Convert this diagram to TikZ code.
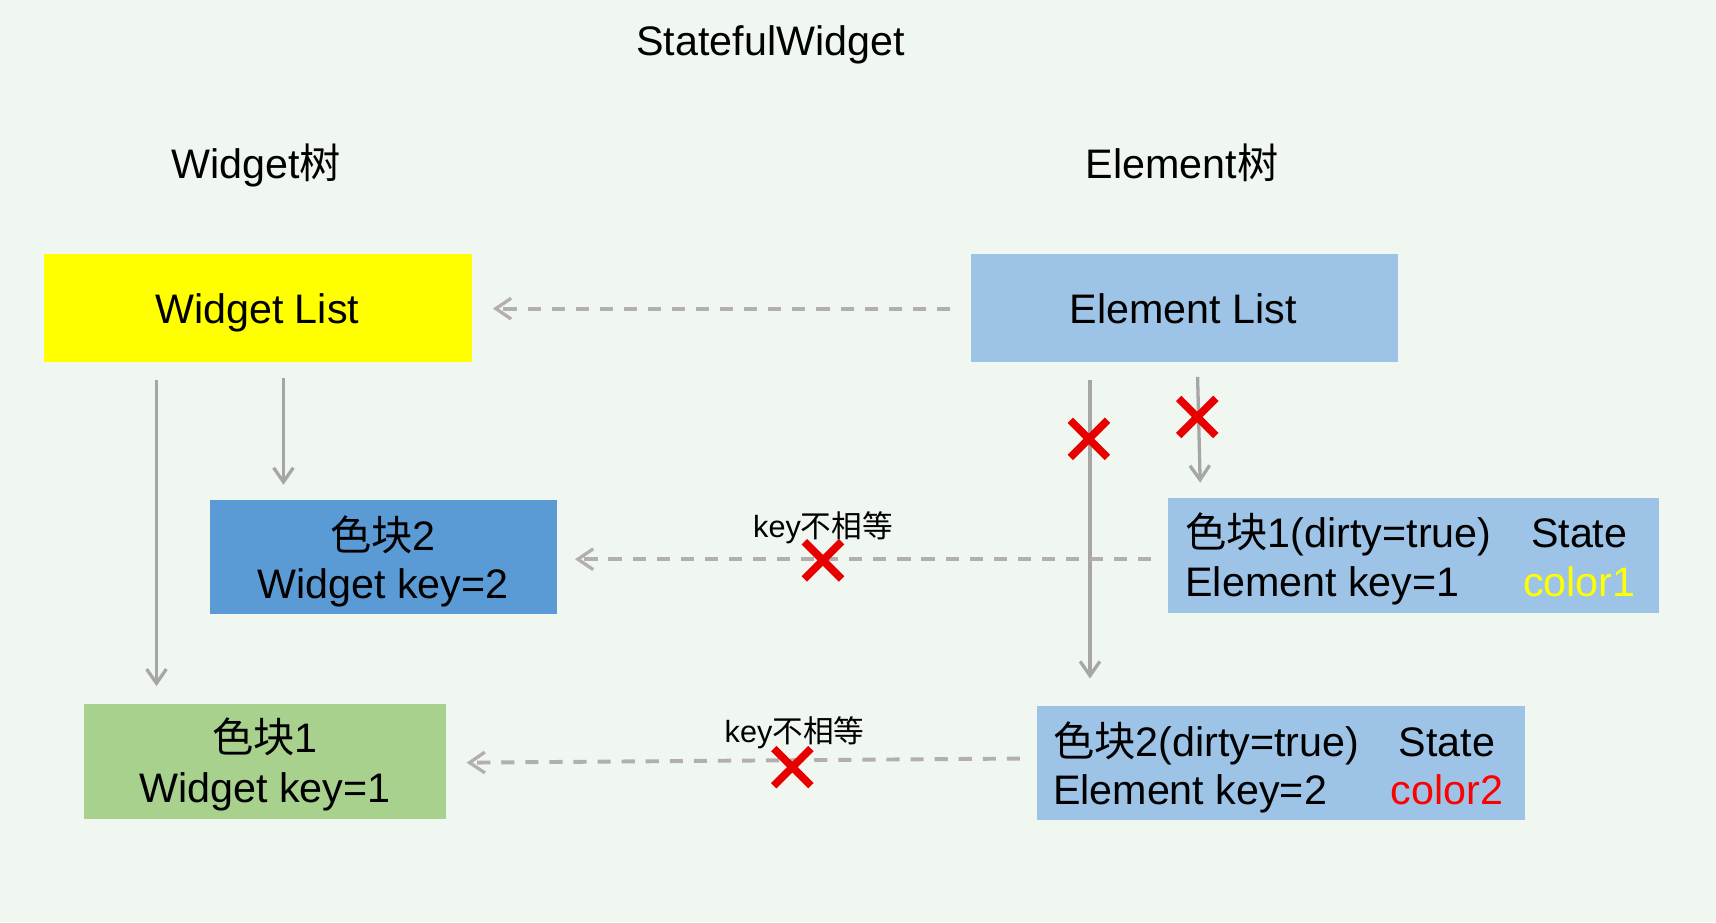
\documentclass[tikz,border=0pt]{standalone}
\usepackage{fontspec}
\setmainfont{Liberation Sans}
\newfontfamily\cjk{Noto Sans CJK SC}
\usetikzlibrary{arrows.meta,shapes.misc}
\definecolor{bg}{RGB}{240,247,240}
\definecolor{ylw}{RGB}{255,255,0}
\definecolor{lblue}{RGB}{157,195,230}
\definecolor{mblue}{RGB}{91,155,213}
\definecolor{lgreen}{RGB}{169,209,142}
\definecolor{arr}{RGB}{166,166,166}
\definecolor{darr}{RGB}{180,175,175}
\definecolor{xred}{RGB}{232,0,0}
\definecolor{c1}{RGB}{255,255,0}
\definecolor{c2}{RGB}{255,0,0}
\newcommand\fbig{\fontsize{37.7}{45}\selectfont}
\newcommand\fsmall{\fontsize{28}{34}\selectfont}
\begin{document}
\begin{tikzpicture}[x=1pt,y=-1pt,
  box/.style={draw=none, inner sep=0pt, anchor=north west},
  txt/.style={inner sep=0pt, font=\fbig, anchor=base},
  ltxt/.style={inner sep=0pt, font=\fbig, anchor=base west},
  stxt/.style={inner sep=0pt, font=\fsmall, anchor=base},
  solidarr/.style={draw=arr, line width=3pt, -{Straight Barb[length=13pt,width=18pt,line width=3pt]}},
  dasharr/.style={draw=darr, line width=3.6pt, dash pattern=on 12pt off 10pt, -{Straight Barb[length=14pt,width=19pt,line width=3pt]}},
  xmark/.style={cross out, draw=xred, line width=7pt, minimum size=27pt, inner sep=0pt}
]
\useasboundingbox (0,0) rectangle (1568,842.5);
\fill[bg] (0,0) rectangle (1568,842.5);

% titles
\node[txt] (title) at (704,51) {StatefulWidget};
\node[txt] (wtree) at (234,163) {Widget{\cjk 树}};
\node[txt] (etree) at (1080,163) {Element{\cjk 树}};

% boxes
\node[box, fill=ylw, minimum width=391pt, minimum height=99pt] (wl) at (40,232) {};
\node[box, fill=lblue, minimum width=390pt, minimum height=99pt] (el) at (887,232) {};
\node[box, fill=mblue, minimum width=317pt, minimum height=104pt] (w2) at (192,457) {};
\node[box, fill=lgreen, minimum width=330pt, minimum height=105pt] (g1) at (77,643) {};
\node[box, fill=lblue, minimum width=449pt, minimum height=105pt] (e1) at (1067,455) {};
\node[box, fill=lblue, minimum width=446pt, minimum height=104pt] (e2) at (947,645) {};

% box texts
\node[txt] (wlt) at (235,296) {Widget List};
\node[txt] (elt) at (1081,296) {Element List};
\node[txt] (w2a) at (350,503) {{\cjk 色块}2};
\node[txt] (w2b) at (350,547) {Widget key=2};
\node[txt] (g1a) at (242,688) {{\cjk 色块}1};
\node[txt] (g1b) at (242,733) {Widget key=1};
\node[ltxt] (e1a) at (1083,500) {{\cjk 色块}1(dirty=true)};
\node[ltxt] (e1b) at (1083,545) {Element key=1};
\node[txt] (e1c) at (1443,500) {State};
\node[txt, text=c1] (e1d) at (1443,545) {color1};
\node[ltxt] (e2a) at (962,691) {{\cjk 色块}2(dirty=true)};
\node[ltxt] (e2b) at (962,735) {Element key=2};
\node[txt] (e2c) at (1322,691) {State};
\node[txt, text=c2] (e2d) at (1322,735) {color2};

% helper coordinates
\coordinate (xa) at (143,0);
\coordinate (xb) at (259,0);
\coordinate (xc) at (996,0);
\coordinate (xd1) at (1094,0);
\coordinate (xd2) at (1097,0);
\coordinate (ya) at (0,282);
\coordinate (yb) at (0,511);
\coordinate (yc1) at (0,693);
\coordinate (yc2) at (0,697);

% solid arrows
\draw[solidarr, shorten <=16pt, shorten >=16pt] (wl.south -| xa) -- (g1.north -| xa);
\draw[solidarr, shorten <=14pt, shorten >=14pt] (wl.south -| xb) -- (w2.north -| xb);
\draw[solidarr, shorten <=16pt, shorten >=25pt] (el.south -| xc) -- (e2.north -| xc);
\draw[solidarr, shorten <=13pt, shorten >=14pt] (el.south -| xd1) -- (e1.north -| xd2);

% dashed arrows
\draw[dasharr, shorten <=19pt, shorten >=19pt] (el.west |- ya) -- (wl.east |- ya);
\draw[dasharr, shorten <=15pt, shorten >=16pt] (e1.west |- yb) -- (w2.east |- yb);
\draw[dasharr, shorten <=15pt, shorten >=19pt] (e2.west |- yc1) -- (g1.east |- yc2);

% labels
\node[stxt] (k1) at (752,491) {key{\cjk 不相等}};
\node[stxt] (k2) at (726,678) {key{\cjk 不相等}};

% red crosses
\node[xmark] (x1) at (995,401) {};
\node[xmark] (x2) at (1094,381) {};
\node[xmark] (x3) at (752,512) {};
\node[xmark] (x4) at (724,701) {};
\end{tikzpicture}
\end{document}
